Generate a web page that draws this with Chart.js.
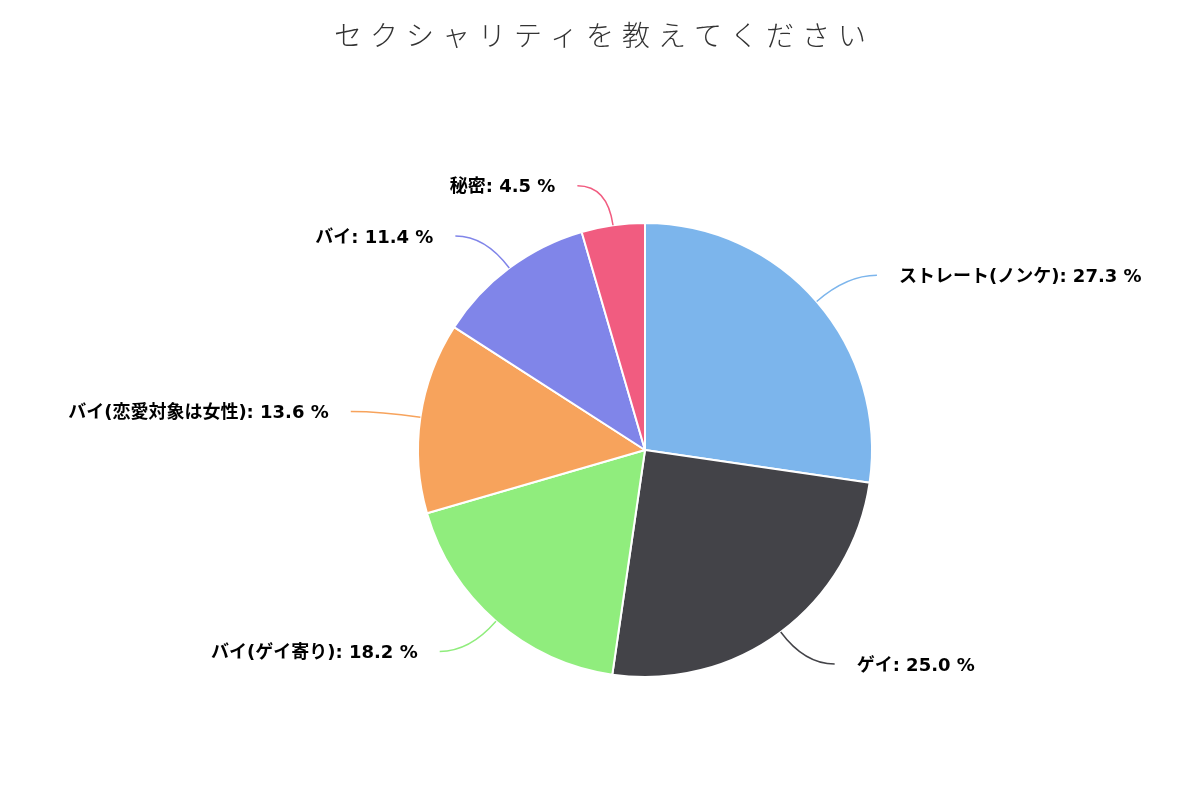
<!DOCTYPE html>
<html><head><meta charset="utf-8">
<script src="https://cdn.jsdelivr.net/npm/chart.js@4"></script>
<style>body{margin:0;background:#fff}#wrap{width:1200px;height:800px}</style>
</head><body><div id="wrap"><canvas id="c"></canvas></div>
<script>
const TITLE = "セクシャリティを教えてください";
const labels = ["ストレート(ノンケ)", "ゲイ", "バイ(ゲイ寄り)", "バイ(恋愛対象は女性)", "バイ", "秘密"];
const values = [27.3, 25.0, 18.2, 13.6, 11.4, 4.5];
const colors = ["#7cb5ec", "#434348", "#90ed7d", "#f7a35c", "#8085e9", "#f15c80"];

const labelPlugin = {
  id: "pieLabels",
  afterDatasetsDraw(chart){
    const ctx = chart.ctx;
    // title
    ctx.save();
    ctx.fillStyle = "#333";
    ctx.font = "300 28px 'Noto Sans CJK JP'";
    ctx.letterSpacing = "8px";
    ctx.textAlign = "center"; ctx.textBaseline = "middle";
    ctx.fillText(TITLE, 604, 35);
    ctx.restore();

    const meta = chart.getDatasetMeta(0);
    meta.data.forEach((arc, i) => {
      const a = (arc.startAngle + arc.endAngle) / 2;
      const cx = arc.x, cy = arc.y, r = arc.outerRadius;
      const cos = Math.cos(a), sin = Math.sin(a);
      const x0 = cx + cos * r, y0 = cy + sin * r;
      const x1 = cx + cos * (r + 40), y1 = cy + sin * (r + 40);
      const right = cos >= 0;
      const x2 = x1 + (right ? 30 : -30);
      ctx.save();
      ctx.strokeStyle = colors[i]; ctx.lineWidth = 1.5;
      ctx.beginPath(); ctx.moveTo(x0, y0);
      ctx.quadraticCurveTo(x1, y1, x2, y1);
      ctx.stroke();
      ctx.fillStyle = "#000";
      ctx.font = "bold 18px 'DejaVu Sans', 'Noto Sans CJK JP'";
      ctx.textBaseline = "middle";
      ctx.textAlign = right ? "left" : "right";
      ctx.fillText(labels[i] + ": " + values[i].toFixed(1) + " %", x2 + (right ? 22 : -22), y1 + 2);
      ctx.restore();
    });
  }
};

new Chart(document.getElementById("c"), {
  type: "pie",
  data: { labels, datasets: [{ data: values, backgroundColor: colors, borderColor: "#fff", borderWidth: 2 }] },
  options: {
    responsive: true, maintainAspectRatio: false, animation: false,
    layout: { padding: { top: 222, bottom: 122, left: 90, right: 0 } },
    plugins: { legend: { display: false }, tooltip: { enabled: false } }
  },
  plugins: [labelPlugin]
});
</script></body></html>
